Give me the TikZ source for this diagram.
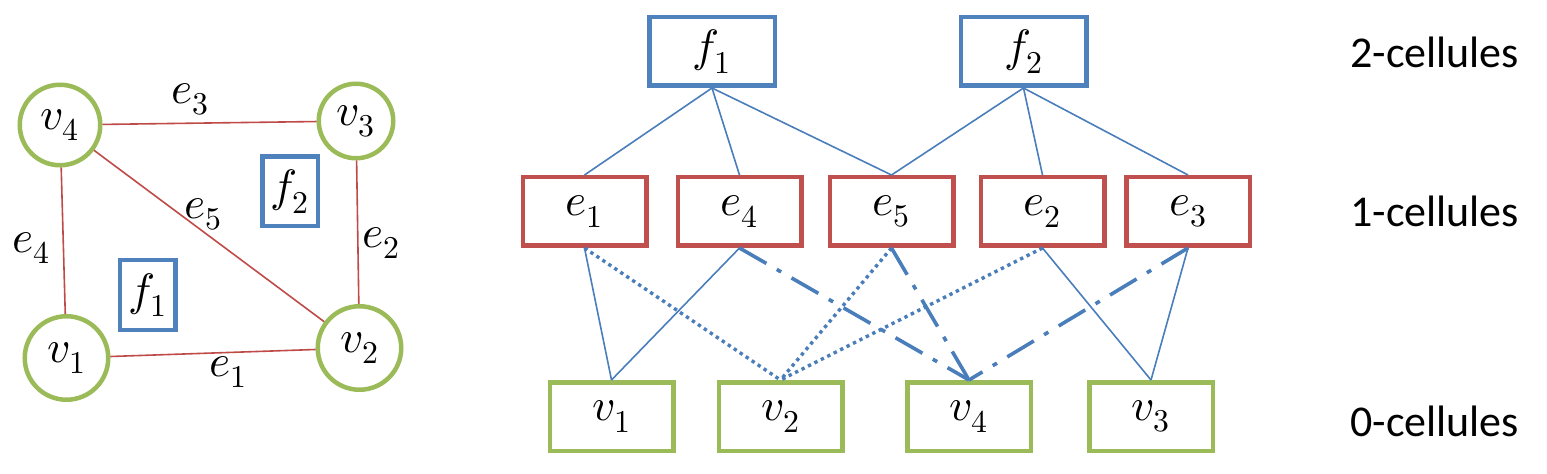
\documentclass[tikz,border=0pt]{standalone}
\usepackage{fontspec}
\usepackage{unicode-math}
\setmainfont{Carlito}
\setmathfont{Latin Modern Math}
\newlength\pxu
\setlength\pxu{0.75pt}
\definecolor{fblue}{HTML}{4F81BD}
\definecolor{ered}{HTML}{C0504D}
\definecolor{vgreen}{HTML}{9BBB59}
\definecolor{lblue}{HTML}{4A7EBB}
\definecolor{redge}{HTML}{BE4B48}
\newcommand\mathsz{\fontsize{34}{40}\selectfont}
\newcommand\textsz{\fontsize{33}{40}\selectfont}
\begin{document}
\begin{tikzpicture}[x=0.75pt,y=-0.75pt,
  cellbox/.style={rectangle, line width=4.5\pxu, inner sep=0pt, minimum height=68.5\pxu, font=\mathsz},
  cellf/.style={cellbox, draw=fblue, minimum width=125.5\pxu},
  celle/.style={cellbox, draw=ered, minimum width=123.5\pxu},
  cellv/.style={cellbox, draw=vgreen, minimum width=123.5\pxu},
  smallf/.style={rectangle, draw=fblue, line width=4.5\pxu, inner sep=0pt, minimum width=55.5\pxu, minimum height=69.5\pxu, font=\mathsz},
  vcirc/.style={circle, draw=vgreen, line width=4.5\pxu, inner sep=0pt, font=\mathsz},
  elabel/.style={inner sep=0pt, font=\mathsz},
  redgeline/.style={draw=redge, line width=1.6\pxu},
  link/.style={draw=lblue, line width=1.6\pxu},
  dotlink/.style={draw=lblue, line width=3.4\pxu, dash pattern=on 3.4\pxu off 3.8\pxu},
  dashdotlink/.style={draw=lblue, line width=3.6\pxu, dash pattern=on 31\pxu off 12\pxu on 5\pxu off 12\pxu},
  rowlabel/.style={anchor=base west, inner sep=0pt, font=\textsz}
]
\useasboundingbox (0,0) rectangle (1547,474);

% ---------- left graph ----------
\node[vcirc, minimum size=80.5\pxu] (L4) at (60,125) {$v_4$};
\node[vcirc, minimum size=74.5\pxu] (L3) at (356,121) {$v_3$};
\node[vcirc, minimum size=83.5\pxu] (L1) at (66.5,358) {$v_1$};
\node[vcirc, minimum size=83.5\pxu] (L2) at (359.5,348) {$v_2$};

\draw[redgeline] (L4) -- (L3);
\draw[redgeline] (L4) -- (L1);
\draw[redgeline] (L4) -- (L2);
\draw[redgeline] (L3) -- (L2);
\draw[redgeline] (L1) -- (L2);

\node[elabel] (le3) at (190,99) {$e_3$};
\node[elabel] (le4) at (31,248) {$e_4$};
\node[elabel] (le5) at (203,214) {$e_5$};
\node[elabel] (le2) at (381,243) {$e_2$};
\node[elabel] (le1) at (228,372) {$e_1$};

\node[smallf] (Lf2) at (290,191.5) {$f_2$};
\node[smallf] (Lf1) at (147.5,295) {$f_1$};

% ---------- right hierarchy ----------
\node[cellf] (F1) at (712,51.5) {$f_1$};
\node[cellf] (F2) at (1023.5,51.5) {$f_2$};

\node[celle] (E1) at (584.5,211.5) {$e_1$};
\node[celle] (E4) at (739.5,211.5) {$e_4$};
\node[celle] (E5) at (891.5,211.5) {$e_5$};
\node[celle] (E2) at (1042.5,211.5) {$e_2$};
\node[celle] (E3) at (1188,211.5) {$e_3$};

\node[cellv] (V1) at (611.5,416.5) {$v_1$};
\node[cellv] (V2) at (780.5,416.5) {$v_2$};
\node[cellv] (V4) at (969,416.5) {$v_4$};
\node[cellv] (V3) at (1151,416.5) {$v_3$};

% 2-cells to 1-cells
\draw[link] (F1.south) -- (E1.north);
\draw[link] (F1.south) -- (E4.north);
\draw[link] (F1.south) -- (E5.north);
\draw[link] (F2.south) -- (E5.north);
\draw[link] (F2.south) -- (E2.north);
\draw[link] (F2.south) -- (E3.north);

% 1-cells to 0-cells
\draw[link] (E1.south) -- (V1.north);
\draw[link] (E4.south) -- (V1.north);
\draw[link] (E2.south) -- (V3.north);
\draw[link] (E3.south) -- (V3.north);

\draw[dotlink] (E1.south) -- (V2.north);
\draw[dotlink] (E5.south) -- (V2.north);
\draw[dotlink] (E2.south) -- (V2.north);

\draw[dashdotlink] (E4.south) -- (V4.north);
\draw[dashdotlink] (E5.south) -- (V4.north);
\draw[dashdotlink] (E3.south) -- (V4.north);

% row labels
\node[rowlabel] (T2) at (1350,68) {2-cellules};
\node[rowlabel] (T1) at (1350,227) {1-cellules};
\node[rowlabel] (T0) at (1350,436) {0-cellules};
\end{tikzpicture}
\end{document}
